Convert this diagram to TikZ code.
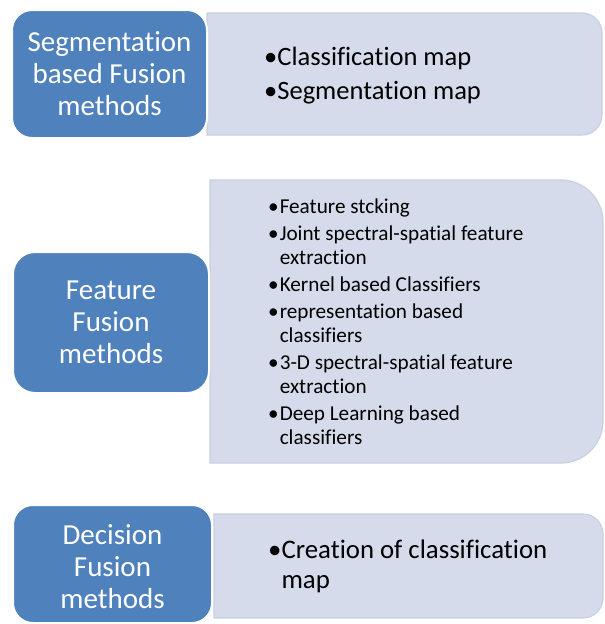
\documentclass[tikz,border=0pt]{standalone}
\usepackage{fontspec}
\setmainfont{Carlito}[Ligatures={NoCommon}]
\definecolor{accent}{HTML}{4F81BD}
\definecolor{panel}{HTML}{D5DBEA}
\definecolor{panelrim}{HTML}{C8D0E2}

% light panel: square left corners, rounded right corners
\newcommand\rpanel[5]{%
  \draw[panelbox] (#1,#2) -- ({#3-#5},#2)
    arc[start angle=-90,end angle=0,radius=#5] -- (#3,{#4-#5})
    arc[start angle=0,end angle=90,radius=#5] -- (#1,#4) -- cycle;}

\begin{document}
\begin{tikzpicture}[x=1pt,y=-1pt,
  panelbox/.style={fill=panel,draw=panelrim,line width=1.2pt},
  headbox/.style={fill=accent,draw=white,line width=2pt,text=white,
    align=center,inner sep=0pt,font=\fontsize{29}{32}\selectfont},
  headtext/.style={text=white,align=center,inner sep=0pt,
    font=\fontsize{29}{32}\selectfont},
  listtext/.style={inner sep=0pt,anchor=base west,text=black}]
\useasboundingbox (0,0) rectangle (605,624);

% detail panels
\rpanel{207}{13}{602}{135}{20}
\rpanel{210}{180}{603}{463}{42}
\rpanel{214}{514}{603}{618}{20}

% method headings
\node[headbox,minimum width=195pt,minimum height=128pt,rounded corners=20pt]
  (seg) at (109.5,74) {Segmentation\\based Fusion\\methods};
\node[headbox,minimum width=196pt,minimum height=141pt,rounded corners=22pt]
  (feat) at (111,322.5) {Feature\\Fusion\\methods};
\node[headbox,minimum width=199pt,minimum height=118pt,rounded corners=20pt]
  (dec) at (112.5,564) {};
\node[headtext] (dect) at (112.5,567) {Decision\\Fusion\\methods};

% bullet lists
\node[listtext,font=\fontsize{26.5}{34}\selectfont] (segl) at (264,65)
  {\begin{tabular}[t]{@{}l@{}l@{}}•&Classification map\\•&Segmentation map\end{tabular}};

\node[listtext,font=\fontsize{21.2}{24}\selectfont] (featl) at (268,213)
  {\begin{tabular}[t]{@{}l@{\hspace{1pt}}l@{}}
   •&Feature stcking\\[3pt]
   •&Joint spectral-spatial feature\\
    &extraction\\[3pt]
   •&Kernel based Classifiers\\[3pt]
   •&representation based\\
    &classifiers\\[3pt]
   •&3-D spectral-spatial feature\\
    &extraction\\[3pt]
   •&Deep Learning based\\
    &classifiers
  \end{tabular}};

\node[listtext,font=\fontsize{26.8}{30}\selectfont] (decl) at (268,558)
  {\begin{tabular}[t]{@{}l@{}l@{}}•&Creation of classification\\&map\end{tabular}};
\end{tikzpicture}
\end{document}
